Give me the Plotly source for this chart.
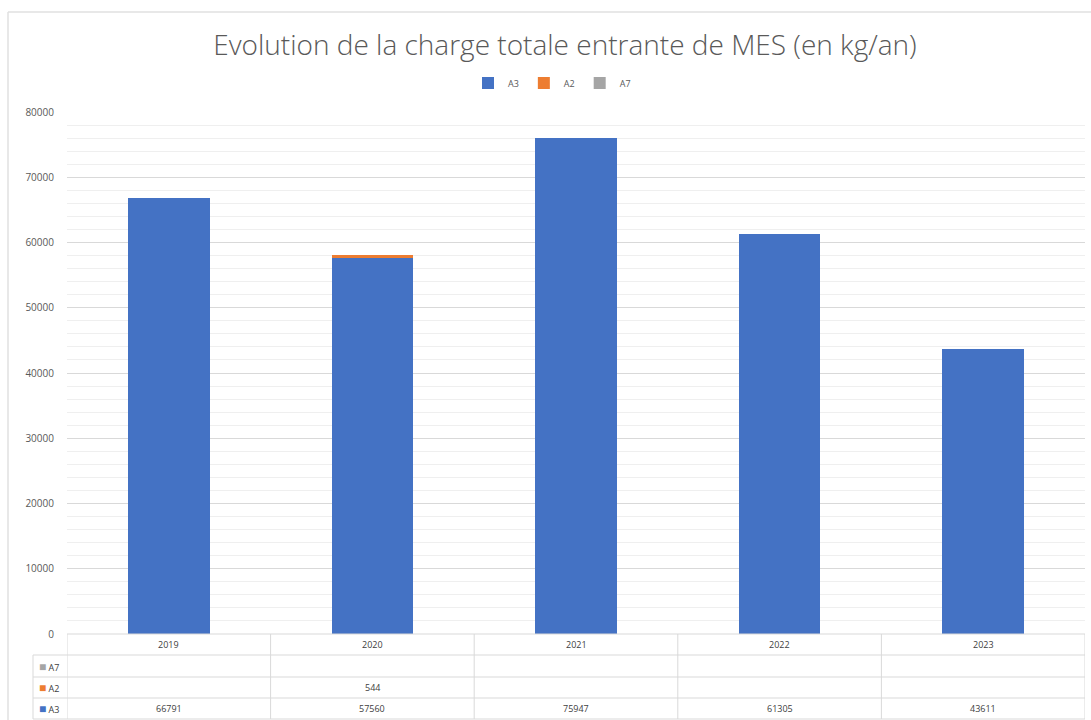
import plotly.graph_objects as go

# Data
years = ["2019", "2020", "2021", "2022", "2023"]
a3 = [66791, 57560, 75947, 61305, 43611]
a2 = [None, 544, None, None, None]
a7 = [None, None, None, None, None]
series_names = ["A3", "A2", "A7"]
series_colors = ["#4472C4", "#ED7D31", "#A5A5A5"]
title_text = "Evolution de la charge totale entrante de MES (en kg/an)"
y_tick_values = [0, 10000, 20000, 30000, 40000, 50000, 60000, 70000, 80000]

series_values = [a3, a2, a7]

# Canvas and plot-area geometry (pixels)
W, H = 1091, 720
L, R, T, B = 67, 1085, 112, 634

FONT = "Open Sans, Liberation Sans, sans-serif"
GRID = "#d9d9d9"
TEXT = "#595959"
CELL = "#404040"


def xp(p):
    """pixel x -> paper x"""
    return (p - L) / (R - L)


def yp(p):
    """pixel y -> paper y"""
    return (B - p) / (B - T)


fig = go.Figure()
for name, vals, color in zip(series_names, series_values, series_colors):
    fig.add_trace(go.Bar(
        x=years, y=vals, name=name,
        marker=dict(color=color, line=dict(width=0)),
        hoverinfo="x+y+name",
    ))

shapes = []
annotations = []

# Data table under the plot: row boundaries (pixels)
header_top, header_bot = 634, 655
row_edges = [655, 677, 698, 719]
key_left = 33

# horizontal lines
shapes.append(dict(type="line", xref="paper", yref="paper",
                   x0=0, x1=1, y0=yp(header_top), y1=yp(header_top),
                   line=dict(color=GRID, width=1)))
for e in row_edges:
    shapes.append(dict(type="line", xref="paper", yref="paper",
                       x0=xp(key_left), x1=1, y0=yp(e), y1=yp(e),
                       line=dict(color=GRID, width=1)))
# vertical lines
shapes.append(dict(type="line", xref="paper", yref="paper",
                   x0=xp(key_left), x1=xp(key_left), y0=yp(header_bot), y1=yp(row_edges[-1]),
                   line=dict(color=GRID, width=1)))
for i in range(len(years) + 1):
    shapes.append(dict(type="line", xref="x", yref="paper",
                       x0=i - 0.5, x1=i - 0.5, y0=yp(header_top), y1=yp(row_edges[-1]),
                       line=dict(color=GRID, width=1)))

# header row: years
for i, yr in enumerate(years):
    annotations.append(dict(x=i, y=yp((header_top + header_bot) / 2), xref="x", yref="paper",
                            xanchor="center", yanchor="middle",
                            text=yr, showarrow=False,
                            font=dict(family=FONT, size=9, color=CELL)))

# series rows (top to bottom: A7, A2, A3)
row_order = list(zip(series_names, series_values, series_colors))[::-1]
for r, (name, vals, color) in enumerate(row_order):
    yc = yp((row_edges[r] + row_edges[r + 1]) / 2)
    annotations.append(dict(x=xp(key_left + 4), y=yc, xref="paper", yref="paper",
                            xanchor="left", yanchor="middle",
                            text=f'<span style="color:{color};font-size:12px">■</span> {name}',
                            showarrow=False,
                            font=dict(family=FONT, size=9, color=CELL)))
    for i, v in enumerate(vals):
        if v is None:
            continue
        annotations.append(dict(x=i, y=yc, xref="x", yref="paper",
                                xanchor="center", yanchor="middle",
                                text=str(v), showarrow=False,
                                font=dict(family=FONT, size=9, color=CELL)))

# chart frame (top and left edges)
shapes.append(dict(type="line", xref="paper", yref="paper",
                   x0=xp(8), x1=xp(1091), y0=yp(12), y1=yp(12),
                   line=dict(color="#e0e0e0", width=1.5)))
shapes.append(dict(type="line", xref="paper", yref="paper",
                   x0=xp(8), x1=xp(8), y0=yp(12), y1=yp(720),
                   line=dict(color="#e0e0e0", width=1.5)))

fig.update_layout(
    width=W, height=H, autosize=False,
    margin=dict(l=L, r=W - R, t=T, b=H - B, pad=0),
    barmode="stack", bargap=0.6,
    paper_bgcolor="white", plot_bgcolor="white",
    title=dict(text=title_text, x=565 / W, xanchor="center", xref="container",
               y=1 - 45 / H, yanchor="middle", yref="container",
               font=dict(family=FONT, size=28, color=TEXT, weight=300)),
    legend=dict(orientation="h", traceorder="normal",
                x=xp(552), xanchor="center", y=yp(83), yanchor="middle",
                font=dict(family=FONT, size=9, color=TEXT), itemwidth=30,
                bgcolor="rgba(0,0,0,0)"),
    xaxis=dict(type="category", range=[-0.5, 4.5], showticklabels=False, showgrid=False,
               showline=False, zeroline=False, ticks=""),
    yaxis=dict(range=[0, 80000], tickvals=y_tick_values, tickformat="d",
               showgrid=True, gridcolor=GRID,
               gridwidth=1, zeroline=False, showline=False, ticks="",
               ticklabelstandoff=12,
               tickfont=dict(family=FONT, size=10, color=TEXT),
               minor=dict(dtick=2000, showgrid=True, gridcolor="#efefef", gridwidth=1)),
    shapes=shapes,
    annotations=annotations,
)

fig.write_html("out.html")
